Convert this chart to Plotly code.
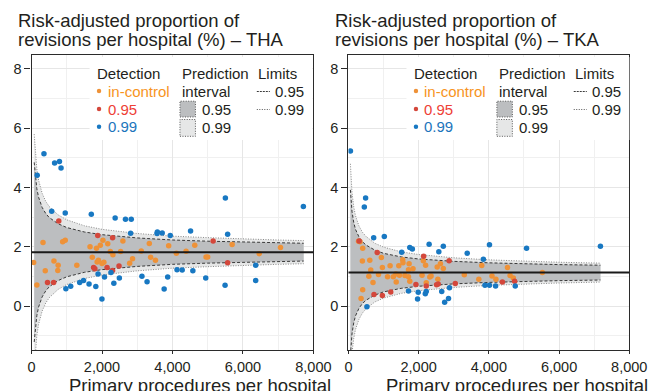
import plotly.graph_objects as go

W, H = 663, 391

# ---------------- data ----------------
panel_titles = [
    ["Risk-adjusted proportion of", "revisions per hospital (%) \u2013 THA"],
    ["Risk-adjusted proportion of", "revisions per hospital (%) \u2013 TKA"],
]
x_title = "Primary procedures per hospital"
x_tickvals = [0, 2000, 4000, 6000, 8000]
x_ticktext = ["0", "2,000", "4,000", "6,000", "8,000"]
y_tickvals = [0, 2, 4, 6, 8]
y_ticktext = ["0", "2", "4", "6", "8"]

# THA
tha_center = 1.82
tha_ic_n = [59, 151, 325, 389, 636, 745, 755, 883, 956, 1285, 1660, 1724, 1843, 1861, 1898, 1953, 1998, 2026, 2053, 2163,
            2236, 2309, 2528, 2592, 2785, 2867, 3114, 3343, 3380, 3517, 3892, 4111, 4386, 4633, 4953, 4999, 5694, 6462, 7066]
tha_ic_y = [1.47, 0.71, 2.15, 1.19, 1.52, 1.20, 1.38, 2.17, 2.22, 1.38, 2.00, 1.65, 1.95, 1.49, 1.55, 2.05, 1.44, 2.22, 1.48, 2.10,
            1.84, 1.73, 1.84, 2.20, 1.45, 1.60, 1.86, 2.11, 1.65, 1.55, 2.04, 1.78, 1.85, 2.05, 1.66, 1.66, 2.08, 1.77, 1.98]
tha_95_n = [453, 627, 773, 1761, 1797, 1879, 2144, 2300, 2300, 2483, 5154, 5566]
tha_95_y = [0.80, 0.80, 2.87, 1.30, 1.26, 2.38, 1.30, 2.31, 1.20, 1.35, 2.20, 1.46]
tha_99_n = [160, 352, 572, 654, 791, 837, 956, 974, 1111, 1367, 1477, 1632, 1696, 1824, 1888, 1998, 2071, 2254, 2336, 2373,
            2492, 2666, 2812, 2830, 3133, 3279, 3562, 3571, 3709, 3764, 3864, 3937, 4129, 4276, 4514, 4578, 4944, 5493, 5502, 5566,
            6362, 6362, 7716]
tha_99_y = [4.41, 5.14, 3.20, 4.83, 4.88, 4.66, 3.14, 0.59, 0.67, 0.80, 0.86, 0.75, 3.10, 0.66, 1.08, 0.24, 0.98, 1.13, 0.77, 2.97,
            0.95, 2.93, 2.46, 2.93, 1.01, 0.82, 2.45, 2.50, 2.47, 0.58, 0.98, 2.38, 1.23, 1.22, 2.53, 1.19, 0.95, 0.70, 3.65, 2.42,
            1.38, 0.86, 3.36]
tha_band_n = [75, 100, 150, 200, 300, 400, 500, 750, 1000, 1500, 2000, 3000, 4000, 5000, 6000, 7000, 7725]
tha_up95 = [4.85, 4.44, 3.96, 3.67, 3.33, 3.13, 2.99, 2.78, 2.65, 2.50, 2.41, 2.30, 2.23, 2.19, 2.16, 2.13, 2.12]
tha_lo95 = [-1.21, -0.80, -0.32, -0.03, 0.31, 0.51, 0.65, 0.86, 0.99, 1.14, 1.23, 1.34, 1.41, 1.45, 1.48, 1.51, 1.52]
tha_up99 = [5.80, 5.26, 4.63, 4.25, 3.81, 3.54, 3.36, 3.08, 2.91, 2.71, 2.59, 2.45, 2.36, 2.31, 2.26, 2.23, 2.21]
tha_lo99 = [-2.16, -1.62, -0.99, -0.61, -0.17, 0.10, 0.28, 0.56, 0.73, 0.93, 1.05, 1.19, 1.28, 1.33, 1.38, 1.41, 1.43]

# TKA
tka_center = 1.13
tka_ic_n = [287, 330, 359, 396, 405, 405, 580, 607, 635, 699, 856, 938, 966, 1113, 1186, 1278, 1351, 1360, 1434, 1452,
            1544, 1553, 1608, 1710, 1710, 1728, 1747, 1839, 2096, 2133, 2198, 2216, 2317, 2354, 2528, 2547, 2620, 2702, 3300, 3714,
            3797, 4090, 4201, 4531, 4605, 4697, 5524]
tka_ic_y = [2.19, 2.17, 0.26, 1.52, 1.95, 0.55, 1.01, 1.55, 1.22, 0.80, 1.07, 1.64, 1.30, 0.99, 1.36, 0.99, 1.08, 0.81, 1.36, 1.04,
            1.56, 1.46, 1.03, 1.23, 0.99, 1.43, 0.84, 1.26, 1.04, 1.53, 1.38, 0.79, 0.98, 1.02, 1.32, 0.91, 1.43, 1.27, 1.06, 0.91,
            1.37, 1.02, 0.91, 1.30, 1.03, 0.95, 1.13]
tka_95_n = [304, 727, 819, 966, 1204, 1922, 2142, 2216, 2510, 2556, 2868, 3043, 4385, 4734]
tka_95_y = [2.20, 0.39, 1.81, 0.36, 0.48, 0.73, 1.68, 0.68, 0.72, 0.75, 1.53, 0.76, 0.81, 0.84]
tka_99_n = [56, 451, 488, 525, 718, 1021, 1517, 1710, 1747, 1820, 1968, 1987, 2189, 2216, 2298, 2574, 2657, 2702, 2740, 2850,
            2878, 3383, 3843, 3888, 4017, 4017, 4192, 4752, 5074, 7179]
tka_99_y = [5.23, 3.34, 3.65, -0.02, 2.31, 2.35, 1.82, 0.51, 1.98, 1.93, 0.24, 0.47, 0.42, 0.49, 2.09, 1.83, 0.49, 2.02, 0.13, 0.26,
            0.62, 1.78, 1.58, 0.70, 2.07, 0.70, 0.68, 0.68, 1.95, 2.02]
tka_band_n = [55, 75, 100, 150, 200, 300, 400, 500, 750, 1000, 1500, 2000, 3000, 4000, 5000, 6000, 7180]
tka_up95 = [3.92, 3.52, 3.20, 2.82, 2.59, 2.33, 2.17, 2.06, 1.89, 1.78, 1.66, 1.59, 1.51, 1.46, 1.42, 1.40, 1.38]
tka_lo95 = [-1.66, -1.26, -0.94, -0.56, -0.33, -0.07, 0.09, 0.20, 0.37, 0.48, 0.60, 0.67, 0.75, 0.80, 0.84, 0.86, 0.88]
tka_up99 = [4.80, 4.28, 3.85, 3.35, 3.05, 2.70, 2.49, 2.35, 2.12, 1.99, 1.83, 1.74, 1.63, 1.56, 1.51, 1.48, 1.45]
tka_lo99 = [-2.54, -2.02, -1.59, -1.09, -0.79, -0.44, -0.23, -0.09, 0.14, 0.27, 0.43, 0.52, 0.63, 0.70, 0.75, 0.78, 0.81]

legend_detection = ["in-control", "0.95", "0.99"]
legend_interval = ["0.95", "0.99"]
legend_limits = ["0.95", "0.99"]

# ---------------- style ----------------
FONT = "Liberation Sans, Arial, Helvetica, sans-serif"
TXT = "#231f20"
C_IC, C_95, C_99 = "#ee9238", "#d4473b", "#1878c2"
T_IC, T_95, T_99 = "#f7941d", "#ee4036", "#1c75bc"
FILL95, FILL99 = "#bcbec0", "#e6e7e7"
LINE95, LINE99 = "#3a3a3a", "#8a8a8a"

X_RANGE = [0, 8000]
Y_RANGE = [-1.48, 8.47]
panels_px = [(28.5, 320.0), (356.3, 646.7)]
top_px, bot_px = 55.0, 350.0


def px(x):
    return x / W


def py(y):
    return 1 - y / H


fig = go.Figure()

panels = [
    dict(c=tha_center, ic=(tha_ic_n, tha_ic_y), p95=(tha_95_n, tha_95_y), p99=(tha_99_n, tha_99_y),
         bn=tha_band_n, u95=tha_up95, l95=tha_lo95, u99=tha_up99, l99=tha_lo99),
    dict(c=tka_center, ic=(tka_ic_n, tka_ic_y), p95=(tka_95_n, tka_95_y), p99=(tka_99_n, tka_99_y),
         bn=tka_band_n, u95=tka_up95, l95=tka_lo95, u99=tka_up99, l99=tka_lo99),
]

shapes = []
annotations = []

for i, p in enumerate(panels):
    xa = "x" if i == 0 else "x2"
    ya = "y" if i == 0 else "y2"
    bn = p["bn"]
    # bands
    fig.add_trace(go.Scatter(x=bn + bn[::-1], y=p["u99"] + p["l99"][::-1], fill="toself", fillcolor=FILL99,
                             line=dict(width=0), mode="lines", hoverinfo="skip", xaxis=xa, yaxis=ya, showlegend=False))
    fig.add_trace(go.Scatter(x=bn + bn[::-1], y=p["u95"] + p["l95"][::-1], fill="toself", fillcolor=FILL95,
                             line=dict(width=0), mode="lines", hoverinfo="skip", xaxis=xa, yaxis=ya, showlegend=False))
    for yy in (p["u99"], p["l99"]):
        fig.add_trace(go.Scatter(x=bn, y=yy, mode="lines", line=dict(color=LINE99, width=1, dash="1px,1.5px"),
                                 hoverinfo="skip", xaxis=xa, yaxis=ya, showlegend=False))
    for yy in (p["u95"], p["l95"]):
        fig.add_trace(go.Scatter(x=bn, y=yy, mode="lines", line=dict(color=LINE95, width=1, dash="3px,2px"),
                                 hoverinfo="skip", xaxis=xa, yaxis=ya, showlegend=False))
    # points
    for (nn, yy), col in ((p["ic"], C_IC), (p["p95"], C_95), (p["p99"], C_99)):
        fig.add_trace(go.Scatter(x=nn, y=yy, mode="markers", marker=dict(color=col, size=5.5, line=dict(width=0)),
                                 xaxis=xa, yaxis=ya, showlegend=False))
    # center line
    shapes.append(dict(type="line", xref=f"{xa} domain", yref=ya, x0=0, x1=1, y0=p["c"], y1=p["c"],
                       line=dict(color="#1a1a1a", width=2), layer="above"))

    L = panels_px[i][0]
    # titles
    annotations.append(dict(text=panel_titles[i][0], x=px(L - 16), y=py(20.8), xref="paper", yref="paper",
                            xanchor="left", yanchor="middle", showarrow=False, font=dict(size=18.5, color=TXT, family=FONT)))
    annotations.append(dict(text=panel_titles[i][1], x=px(L - 16), y=py(39.5), xref="paper", yref="paper",
                            xanchor="left", yanchor="middle", showarrow=False, font=dict(size=18.5, color=TXT, family=FONT)))
    annotations.append(dict(text=x_title, x=px(L + 37), y=py(385), xref="paper", yref="paper",
                            xanchor="left", yanchor="middle", showarrow=False, font=dict(size=18.5, color=TXT, family=FONT)))

    # legend
    shapes.append(dict(type="rect", xref="paper", yref="paper", x0=px(L + 60), x1=px(L + 290.5),
                       y0=py(140), y1=py(57), fillcolor="white", line=dict(width=0), layer="above"))
    rows = [73.3, 91.0, 109.0, 126.8]

    def txt(s, x, y, color=TXT):
        annotations.append(dict(text=s, x=px(x), y=py(y), xref="paper", yref="paper", xanchor="left",
                                yanchor="middle", showarrow=False, font=dict(size=15, color=color, family=FONT)))

    txt("Detection", L + 66, rows[0])
    for k, (lab, col, tcol) in enumerate(zip(legend_detection, (C_IC, C_95, C_99), (T_IC, T_95, T_99))):
        cx, cy = L + 69.8, rows[k + 1]
        shapes.append(dict(type="circle", xref="paper", yref="paper", x0=px(cx - 2.3), x1=px(cx + 2.3),
                           y0=py(cy + 2.3), y1=py(cy - 2.3), fillcolor=col, line=dict(width=0), layer="above"))
        txt(lab, L + 76.5, cy, tcol)
    txt("Prediction", L + 153.5, rows[0])
    txt("interval", L + 153.5, rows[1])
    sq = [(101.2, 117.0), (119.5, 136.3)]
    for k, (lab, fc) in enumerate(zip(legend_interval, (FILL95, FILL99))):
        shapes.append(dict(type="rect", xref="paper", yref="paper", x0=px(L + 153.5), x1=px(L + 169.5),
                           y0=py(sq[k][1]), y1=py(sq[k][0]), fillcolor=fc,
                           line=dict(color="#555555", width=1, dash="1px,1.5px"), layer="above"))
        txt(lab, L + 174.5, (sq[k][0] + sq[k][1]) / 2)
    txt("Limits", L + 232.5, rows[0])
    for k, (lab, dash, lc) in enumerate(zip(legend_limits, ("2px,1px", "1px,1.5px"), (LINE95, "#555555"))):
        cy = rows[k + 1]
        shapes.append(dict(type="line", xref="paper", yref="paper", x0=px(L + 233), x1=px(L + 246.5),
                           y0=py(cy + 0.5), y1=py(cy + 0.5), line=dict(color=lc, width=1, dash=dash), layer="above"))
        txt(lab, L + 249.5, cy)

axis_common = dict(showline=True, mirror=True, linecolor="#2b2b2b", linewidth=1.4, ticks="outside",
                   tickcolor="#2b2b2b", tickwidth=1.2, zeroline=False, showgrid=True,
                   tickfont=dict(size=14.5, color=TXT, family=FONT))

xax = dict(axis_common, range=X_RANGE, tickmode="array", tickvals=x_tickvals, ticktext=x_ticktext, ticklen=3,
           gridcolor="#e6e6e6", gridwidth=1,
           minor=dict(tickmode="linear", tick0=0, dtick=1000, showgrid=True, gridcolor="#f0f0f0", ticks=""))
yax = dict(axis_common, range=Y_RANGE, tickmode="array", tickvals=y_tickvals, ticktext=y_ticktext, ticklen=6,
           gridcolor="#e6e6e6", gridwidth=1,
           minor=dict(tickmode="linear", tick0=0, dtick=1, showgrid=True, gridcolor="#f0f0f0", ticks=""))

fig.update_layout(
    width=W, height=H,
    margin=dict(l=0, r=0, t=0, b=0),
    paper_bgcolor="white", plot_bgcolor="white",
    showlegend=False,
    xaxis=dict(xax, domain=[px(panels_px[0][0]), px(panels_px[0][1])], anchor="y"),
    yaxis=dict(yax, domain=[py(bot_px), py(top_px)], anchor="x"),
    xaxis2=dict(xax, domain=[px(panels_px[1][0]), px(panels_px[1][1])], anchor="y2"),
    yaxis2=dict(yax, domain=[py(bot_px), py(top_px)], anchor="x2"),
    shapes=shapes,
    annotations=annotations,
)

fig.write_html("out.html", config={"displayModeBar": False},
               post_script="document.body.style.margin='0';document.body.style.overflow='hidden';")
